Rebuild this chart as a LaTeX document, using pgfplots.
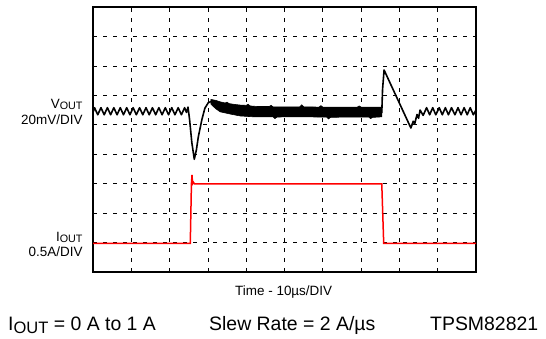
\documentclass[border=0pt]{standalone}
\usepackage{fontspec}
\setmainfont{Liberation Sans}
\usepackage{graphicx}
\usepackage{pgfplots}
\pgfplotsset{compat=1.18}
\newcommand{\subA}[1]{\raisebox{-0.12ex}{\scalebox{0.8}{#1}}}
\newcommand{\subB}[1]{\raisebox{-0.35ex}{\scalebox{0.85}{#1}}}
\begin{document}
\begin{tikzpicture}
\useasboundingbox (0,0) rectangle (546bp,339bp);
\begin{axis}[
  at={(93bp,67bp)}, anchor=south west,
  scale only axis, width=383bp, height=265bp,
  xmin=0, xmax=10, ymin=0, ymax=9,
  xtick={0,...,10}, ytick={0,...,9},
  xticklabels={}, yticklabels={},
  major tick length=0pt,
  grid=major,
  major grid style={black, line width=0.7bp, dash pattern=on 3.5bp off 6.5bp},
  axis line style={line width=2.2bp},
]
% V_OUT before load step
\addplot[black, line width=1.6bp, line join=round] coordinates {
(0,5.42) (0.04,5.58) (0.124,5.34) (0.208,5.58) (0.292,5.34) (0.376,5.58) (0.46,5.34)
(0.544,5.58) (0.628,5.34) (0.712,5.58) (0.796,5.34) (0.88,5.58) (0.964,5.34)
(1.048,5.58) (1.132,5.34) (1.216,5.58) (1.30,5.34) (1.384,5.58) (1.468,5.34)
(1.552,5.58) (1.636,5.34) (1.72,5.58) (1.804,5.34) (1.888,5.58) (1.972,5.34)
(2.056,5.58) (2.14,5.34) (2.224,5.58) (2.308,5.34) (2.392,5.58) (2.44,5.42)
(2.48,5.60) (2.52,5.2) (2.58,4.4) (2.645,3.83) (2.70,4.15) (2.75,4.59)
(2.84,5.16) (2.92,5.56) (3.01,5.75) (3.10,5.80)
};
% V_OUT noisy band under load
\addplot[black, fill=black, line width=0.6bp] coordinates {
(3.08,5.86) (3.2,5.83) (3.32,5.78) (3.45,5.74) (3.5,5.77) (3.55,5.72) (3.7,5.69)
(3.84,5.67) (4.0,5.66) (4.05,5.70) (4.1,5.64) (4.3,5.62) (4.6,5.62) (4.65,5.66)
(4.7,5.61) (5.0,5.61) (5.4,5.61) (5.45,5.68) (5.5,5.61) (5.9,5.60) (5.95,5.65)
(6.0,5.60) (6.45,5.60) (6.9,5.60) (6.95,5.64) (7.0,5.60) (7.54,5.60)
(7.54,5.27) (7.3,5.25) (7.25,5.21) (7.2,5.26) (6.8,5.26) (6.5,5.26) (6.2,5.25)
(6.15,5.20) (6.1,5.26) (5.5,5.27) (5.0,5.27) (4.8,5.26) (4.75,5.21) (4.7,5.27)
(4.2,5.27) (3.84,5.30) (3.6,5.36) (3.32,5.44) (3.2,5.55) (3.08,5.70)
} -- cycle;
% V_OUT after load release
\addplot[black, line width=1.6bp, line join=round] coordinates {
(7.54,5.40) (7.56,6.2) (7.60,6.86) (8.30,4.89) (8.36,5.12) (8.40,5.04) (8.46,5.35)
(8.50,5.22) (8.54,5.50) (8.62,5.32) (8.71,5.58) (8.79,5.34) (8.87,5.58) (8.95,5.34)
(9.04,5.58) (9.12,5.34) (9.20,5.58) (9.28,5.34) (9.36,5.58) (9.45,5.34) (9.53,5.58)
(9.61,5.34) (9.69,5.58) (9.77,5.34) (9.85,5.58) (9.93,5.34) (10,5.50)
};
% I_OUT
\addplot[red, line width=1.5bp] coordinates {
(0,0.972) (2.54,0.972) (2.57,3.0) (2.585,3.30) (2.60,3.0) (2.62,3.05) (2.65,2.99)
(7.54,2.99) (7.59,0.972) (10,0.972)
};
\end{axis}
\node[anchor=base east, font=\fontsize{13.5}{14}\selectfont] at (86bp,230bp) {V\subA{OUT}};
\node[anchor=base east, font=\fontsize{13.5}{14}\selectfont] at (86bp,214.5bp) {20mV/DIV};
\node[anchor=base east, font=\fontsize{13.5}{14}\selectfont] at (86bp,97bp) {I\subA{OUT}};
\node[anchor=base east, font=\fontsize{13.5}{14}\selectfont] at (86bp,82bp) {0.5A/DIV};
\node[anchor=base west, font=\fontsize{13.5}{14}\selectfont, inner sep=0pt] at (235bp,43bp) {Time - 10µs/DIV};
\node[anchor=base west, font=\fontsize{19.5}{20}\selectfont, inner sep=0pt] at (8bp,9bp) {I\subB{OUT} = 0 A to 1 A};
\node[anchor=base west, font=\fontsize{19.5}{20}\selectfont, inner sep=0pt] at (209bp,9bp) {Slew Rate = 2 A/µs};
\node[anchor=base west, font=\fontsize{19.5}{20}\selectfont, inner sep=0pt] at (430bp,9bp) {TPSM82821};
\end{tikzpicture}
\end{document}
